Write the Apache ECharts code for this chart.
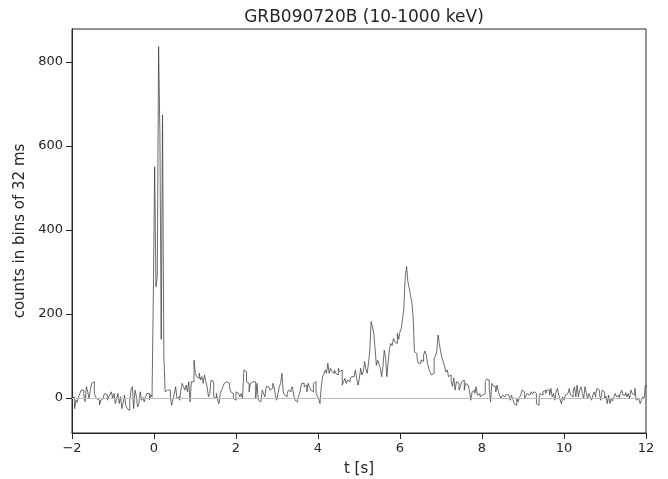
<!DOCTYPE html>
<html>
<head>
<meta charset="utf-8">
<script src="https://cdn.jsdelivr.net/npm/echarts@6/dist/echarts.min.js"></script>
<style>html,body{margin:0;padding:0;background:#fff}#chart{width:668px;height:479px}</style>
</head>
<body>
<div id="chart"></div>
<script>
// 32 ms bins starting at t = -2 s
const binStart = -2;
const binWidth = 0.032;
const xTicks = [-2, 0, 2, 4, 6, 8, 10, 12];
const yTicks = [0, 200, 400, 600, 800];

// counts per bin, segment by segment
const countsPre = [0,3,-25,-5,-10, 3,11,19,19,8, -8,27,15,-1,20, 35,39,11,3,-2, -5,-16,-5,-1,5, 11,7,-5,3,9, 15,-1,11,-13,-3, 11,-13,3,-25,-11, 7,-17,-25,-29,-8, 19,27,-25,19,5, -21,-13,15,-5,2, -9,3,11,11,-4,8,2];
const countsSpike = [250,550,265,290,836,630,140,674,100];
const countsEarly = [15,19,15,19,-1, -17,-1,11,27,-1, 3,-5,19,35,27, 19,31,15,39,-9, 39,39,90,59,51, 47,59,43,51,35, 55,39,27,3,11, 43,39,3,-1,11, -5,-13,11,19,27, 35,39,43,35,27, 15,11,-1,-5,15, 11,15,3,11,-1, 67,63,39,35,15, 35,39,35,39,-1, 35,-5];
const countsMid = [-9,-9,19,11,3, 27,27,31,19,23, 35,27,7,-5,11, 27,35,59,15,7, 3,11,19,15,21, 27,7,-5,-9,-3, 7,19,35,35,27, 31,15,35,27,19, 15,35,39,11,5, -1,-13,27,51,57, 67,59,83,59,71, 63,59,67,59,55, 71,63,67,31,39, 47,35,43,39,45, 51,51];
const countsRise = [51,67,47,31,45, 71,55,63,87,70, 59,83,114,182,170, 154,118,78,90,80, 71,51,75,114,95, 51,87,118,130,125, 142,134,130,154,140, 158,166,190,217];
const countsPeak = [289,313,277,262,245, 229,194,110,106,95, 83,83,91,87,103, 112,103,82,70,62, 55,59,94,100,110, 150,130,110,95,87, 75,62,67,51,55, 40,28,48];
const countsDecay = [19,39,35,19,27, 39,43,19,35,31, 27,15,-5,15,19, 11,27,7,11,3, 7,7,11,39,45, 43,23,-9,35,29, 27,15,31,15,5, -1,7,3,-1,9, 7,3,-5,7,-3, -13,-17,-1,-9,1, 7,19,15,-1,5, 11,7,3,15,9, 15,11,-13,-17,3, 11,7,15,19, 11,19];
const countsTail = [19,7,23,3,11, -5,15,23,7,-3, -13,3,-5,7,11, 15,23,7,3,15, 27,3,31,3,19, 27,11,-1,27,13, -1,11,3,-5,7, 15,3,23,19,9, -5,19,15,-1,5, -13,7,-13,-1,-7, 3,11,3,7,1, 11,19,7,7,13, 3,11,-1,19,11, 7,23,-5,-1,3, -13,-5,3,-2,30];

const counts = [].concat(countsPre, countsSpike, countsEarly, countsMid, countsRise, countsPeak, countsDecay, countsTail);
const stepData = counts.map((v, i) => [binStart + i * binWidth, v]);
stepData.push([binStart + counts.length * binWidth, counts[counts.length - 1]]);

const FONT = 'DejaVu Sans';
const INK = '#262626';

const chart = echarts.init(document.getElementById('chart'), null, {renderer: 'canvas'});
chart.setOption({
  animation: false,
  backgroundColor: '#ffffff',
  title: {
    text: 'GRB090720B (10-1000 keV)',
    left: 359, top: 4, textAlign: 'center',
    textStyle: {fontFamily: FONT, fontSize: 17, fontWeight: 'normal', color: INK}
  },
  grid: {left: 72, right: 22, top: 29, bottom: 46, show: true, borderColor: INK, borderWidth: 1,
    backgroundColor: 'transparent', containLabel: false, outerBoundsMode: 'none'},
  xAxis: {
    type: 'value', min: -2, max: 12, interval: 2,
    name: 't [s]', nameLocation: 'middle', nameGap: 29,
    nameTextStyle: {fontFamily: FONT, fontSize: 15, color: INK},
    axisLine: {show: true, onZero: false, lineStyle: {color: INK, width: 1}},
    axisTick: {show: true, length: 6, lineStyle: {color: INK, width: 1}},
    axisLabel: {margin: 9, fontFamily: FONT, fontSize: 13, color: INK,
      formatter: v => String(v).replace('-', '\u2212')},
    splitLine: {show: false}
  },
  yAxis: {
    type: 'value', min: -83, max: 878,
    name: 'counts in bins of 32 ms', nameLocation: 'middle', nameGap: 42, nameRotate: 90,
    nameTextStyle: {fontFamily: FONT, fontSize: 15, color: INK},
    axisLine: {show: true, onZero: false, lineStyle: {color: INK, width: 1}},
    axisTick: {show: true, length: 6, customValues: yTicks, lineStyle: {color: INK, width: 1}},
    axisLabel: {margin: 9, fontFamily: FONT, fontSize: 13, color: INK, customValues: yTicks},
    splitLine: {show: false}
  },
  series: [{
    type: 'line',
    step: 'end',
    data: stepData,
    showSymbol: false,
    symbol: 'none',
    clip: true,
    lineStyle: {color: '#3c3c3c', width: 0.75},
    markLine: {
      silent: true, symbol: 'none', animation: false,
      label: {show: false},
      lineStyle: {color: '#bdbdbd', width: 1, type: 'solid'},
      data: [{yAxis: 0}]
    },
    z: 3
  }]
});
</script>
</body>
</html>
